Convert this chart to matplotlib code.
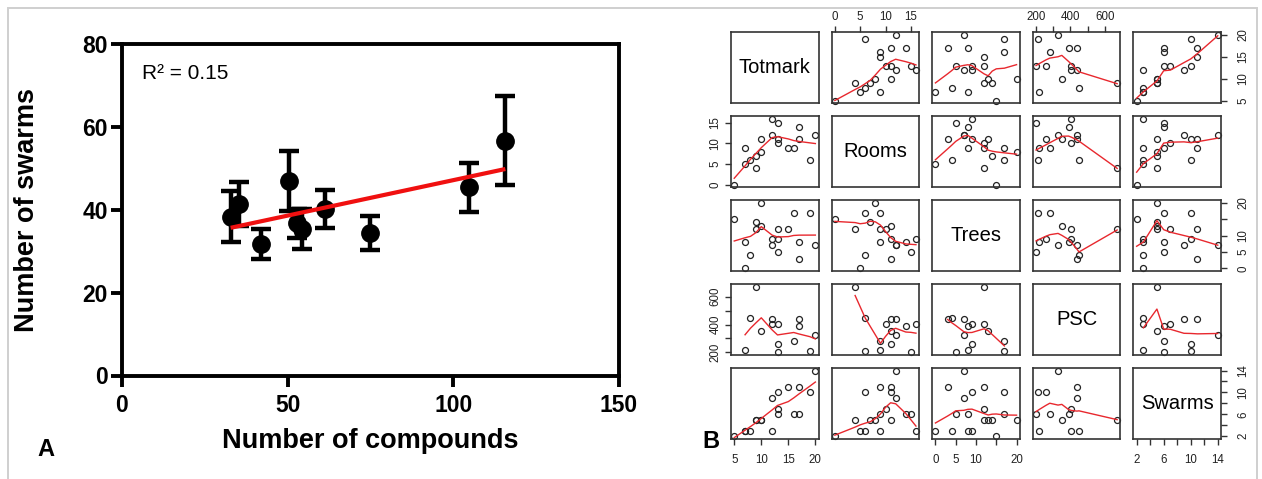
import numpy as np
import matplotlib
matplotlib.use("Agg")
import matplotlib.pyplot as plt
from matplotlib.patches import Rectangle

# --- Panel A: swarms per site against number of compounds (mean +/- error) ---
compounds = [32.8, 35.3, 41.9, 50.3, 52.8, 54.4, 61.4, 74.7, 104.6, 115.7]
swarms_mean = [38.3, 41.4, 31.7, 46.9, 36.8, 35.3, 40.2, 34.4, 45.4, 56.7]
swarms_err = [6.2, 5.4, 3.6, 7.3, 3.5, 4.8, 4.6, 4.2, 6.0, 10.8]

# --- Panel B: site table for the scatterplot matrix (nan = not recorded) ---
var_names = ["Totmark", "Rooms", "Trees", "PSC", "Swarms"]
totmark = [5, 7, 7, 8, 9, 9, 10, 10, 12, 13, 12, 13, 13, 15, 16, 17, 17, 19, 20]
rooms = [0, 9, 5, 6, 7, 4, 8, 11, 16, 15, 12, 11, 10, 9, 9, 14, 11, 6, 12]
trees = [15, 8, 0, 4, 14, 12, 20, 13, 9, 5, 7, 9, 12, 12, 17, 8, 3, 17, 7]
psc = [np.nan, 215, np.nan, 450, np.nan, 672, np.nan, 350, 405, 200,
       440, 257, 406, np.nan, 280, 389, 437, 210, 328]
swarms = [2, 3, 3, 3, 5, 5, 5, 5, 3, 6, 9, 10, 7, 11, 6, 6, 11, 10, 14]

tick_pos = {
    "Totmark": [5, 10, 15, 20],
    "Rooms": [0, 5, 10, 15],
    "Trees": [0, 5, 10, 15, 20],
    "PSC": [200, 300, 400, 500, 600],
    "Swarms": [2, 4, 6, 8, 10, 12, 14],
}
tick_txt = {
    "Totmark": ["5", "10", "15", "20"],
    "Rooms": ["0", "5", "10", "15"],
    "Trees": ["0", "5", "10", "", "20"],
    "PSC": ["200", "", "400", "", "600"],
    "Swarms": ["2", "", "6", "", "10", "", "14"],
}


def lowess(x, y, f=2/3, iters=3):
    # same scheme as R's lowess(): tricube local lines + bisquare robustness
    o = np.argsort(x, kind="mergesort")
    x, y = x[o], y[o]
    n = len(x)
    ns = max(min(int(f * n + 1e-7), n), 2)
    rng = x[-1] - x[0]
    rw = np.ones(n)
    fit = np.zeros(n)
    for it in range(iters + 1):
        for i in range(n):
            d = np.abs(x - x[i])
            h = np.sort(d)[ns - 1]
            if h > 0:
                u = d / h
                w = np.where(u <= 0.001, 1.0, (1 - u**3) ** 3)
                w[d > 0.999 * h] = 0.0
            else:
                w = (d == 0).astype(float)
            w = w * rw
            if w.sum() <= 0:
                fit[i] = y[i]
                continue
            w = w / w.sum()
            if h > 0:
                a = (w * x).sum()
                b = (w * (x - a) ** 2).sum()
                if np.sqrt(b) > 0.001 * rng:
                    w = w * ((x[i] - a) / b * (x - a) + 1)
            fit[i] = (w * y).sum()
        if it == iters:
            break
        res = np.abs(y - fit)
        cmad = 6 * np.median(res)
        if cmad < 1e-7 * np.mean(np.abs(y)):
            break
        r = res / cmad
        rw = np.where(r <= 0.001, 1.0, np.where(r > 0.999, 0.0, (1 - r**2) ** 2))
    return x, fit


def padded(v):
    lo, hi = np.nanmin(v), np.nanmax(v)
    pad = 0.04 * (hi - lo)
    return lo - pad, hi + pad


font = "Liberation Sans"

W, H = 1262, 479
fig = plt.figure(figsize=(W / 100, H / 100), dpi=100)

# light frame round the figure
fig.patches.append(Rectangle((8 / W, -0.05), (1257 - 8) / W, (H - 8) / H + 0.05,
                             transform=fig.transFigure, fill=False,
                             edgecolor="#cfcfcf", lw=1.4))

# ---------------- Panel A ----------------
axA = fig.add_axes([122 / W, 1 - 375.5 / H, 497 / W, 331.5 / H])
axA.errorbar(compounds, swarms_mean, yerr=swarms_err, fmt="o", color="black",
             ms=12.5, elinewidth=3.2, capsize=7, capthick=3.2, zorder=3)
slope, icpt = np.polyfit(compounds, swarms_mean, 1)
xs = np.array([min(compounds), max(compounds)])
axA.plot(xs, icpt + slope * xs, color="#f01010", lw=3, zorder=4,
         solid_capstyle="butt")
axA.set_xlim(0, 150)
axA.set_ylim(0, 80)
axA.set_xticks([0, 50, 100, 150])
axA.set_yticks([0, 20, 40, 60, 80])
for s in axA.spines.values():
    s.set_linewidth(2.8)
axA.tick_params(width=2.8, length=8, labelsize=16.5)
axA.tick_params(axis="x", pad=5)
axA.tick_params(axis="y", pad=2)
for lab in axA.get_xticklabels() + axA.get_yticklabels():
    lab.set_fontfamily(font)
    lab.set_fontweight("bold")
axA.text(6, 73, "R² = 0.15", fontsize=15, family=font, va="center", ha="left")
fig.text(370 / W, 1 - 441 / H, "Number of compounds", ha="center", va="center",
         fontsize=19.5, fontweight="bold", family=font)
fig.text(27 / W, 1 - 210 / H, "Number of swarms", ha="center", va="center",
         rotation=90, fontsize=19.5, fontweight="bold", family=font)
fig.text(46 / W, 1 - 449 / H, "A", ha="center", va="center",
         fontsize=17, fontweight="bold", family=font)

# ---------------- Panel B: pairs plot ----------------
data = [np.array(v, dtype=float) for v in (totmark, rooms, trees, psc, swarms)]
lims = [padded(v) for v in data]
col_left, col_pitch, box_w = 731, 100.6, 87.6
row_top, row_pitch, box_h = 32.3, 83.9, 71.0
tick_col = "#333333"

for i in range(5):
    for j in range(5):
        rect = [(col_left + j * col_pitch) / W,
                1 - (row_top + i * row_pitch + box_h) / H,
                box_w / W, box_h / H]
        ax = fig.add_axes(rect)
        ax.set_xlim(lims[j])
        ax.set_ylim(lims[i])
        for s in ax.spines.values():
            s.set_linewidth(1.2)
            s.set_color(tick_col)
        ax.tick_params(length=4, width=1, color=tick_col, labelcolor="#222222",
                       labelsize=8.3, pad=2, labelfontfamily=font)
        ax.set_xticks([])
        ax.set_yticks([])

        if i == j:
            ax.text(0.5, 0.5, var_names[i], transform=ax.transAxes, ha="center",
                    va="center", fontsize=14.5, family=font)
        else:
            x, y = data[j], data[i]
            ok = np.isfinite(x) & np.isfinite(y)
            ax.plot(x[ok], y[ok], "o", mfc="none", mec="#222222", ms=4.3, mew=0.9,
                    clip_on=False)
            sx, sy = lowess(x[ok], y[ok])
            ax.plot(sx, sy, color="#e8282e", lw=1.0)

        # axes on alternating sides, as in R's pairs()
        if i == 0 and j % 2 == 1:
            ax.xaxis.tick_top()
            ax.set_xticks(tick_pos[var_names[j]], tick_txt[var_names[j]])
            ax.tick_params(axis="x", pad=3)
        if i == 4 and j % 2 == 0:
            ax.set_xticks(tick_pos[var_names[j]], tick_txt[var_names[j]])
            ax.tick_params(axis="x", pad=7)
        if j == 0 and i % 2 == 1:
            ax.set_yticks(tick_pos[var_names[i]], tick_txt[var_names[i]])
            ax.tick_params(axis="y", labelrotation=90, pad=3)
            for lab in ax.get_yticklabels():
                lab.set_verticalalignment("center")
        if j == 4 and i % 2 == 0:
            ax.yaxis.tick_right()
            ax.set_yticks(tick_pos[var_names[i]], tick_txt[var_names[i]])
            ax.tick_params(axis="y", labelrotation=90, pad=8)
            for lab in ax.get_yticklabels():
                lab.set_verticalalignment("center")

fig.text(711 / W, 1 - 442 / H, "B", ha="center", va="center",
         fontsize=17, fontweight="bold", family=font)

fig.savefig("out.png", dpi=100)
